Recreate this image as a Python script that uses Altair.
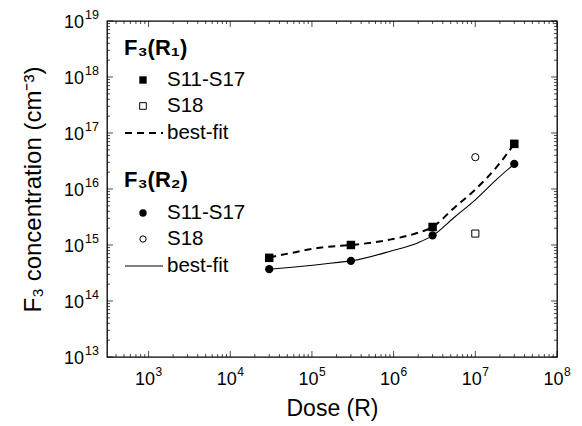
import altair as alt
import pandas as pd

# ---------------- data ----------------
dose_main = [3e4, 3e5, 3e6, 3e7]
r1_main = [5.9e14, 1.0e15, 2.1e15, 6.4e16]      # F3(R1) S11-S17 (filled squares)
r2_main = [3.7e14, 5.2e14, 1.49e15, 2.8e16]     # F3(R2) S11-S17 (filled circles)

dose_s18 = [1e7]
r1_s18 = [1.6e15]                               # F3(R1) S18 (open square)
r2_s18 = [3.7e16]                               # F3(R2) S18 (open circle)

fit_dose = [3e4, 6.7e4, 1.1e5, 2.1e5, 3e5, 9.3e5, 2e6, 3e6, 5.5e6, 1e7, 1.84e7, 3e7]
fit_r1 = [6.0e14, 7.6e14, 8.7e14, 9.6e14, 1.0e15, 1.26e15, 1.66e15, 2.1e15,
          4.6e15, 9.8e15, 2.5e16, 6.4e16]
fit_r2 = [3.7e14, 4.1e14, 4.4e14, 4.9e14, 5.2e14, 7.8e14, 1.1e15, 1.47e15,
          3.1e15, 6.4e15, 1.5e16, 2.8e16]

x_exponents = [3, 4, 5, 6, 7, 8]
y_exponents = [13, 14, 15, 16, 17, 18, 19]

x_domain = [310, 1e8]
y_domain = [1e13, 1e19]

W, H = 450, 336
FONT = "Liberation Sans"

x_major = [10.0 ** e for e in x_exponents]
y_major = [10.0 ** e for e in y_exponents]
x_minor = [k * 10.0 ** n for n in range(2, 8) for k in range(2, 10)
           if x_domain[0] <= k * 10.0 ** n <= x_domain[1]]
y_minor = [k * 10.0 ** n for n in range(13, 19) for k in range(2, 10)]

xs = alt.Scale(type="log", domain=x_domain, nice=False)
ys = alt.Scale(type="log", domain=y_domain, nice=False)

x_axis = alt.Axis(values=x_major, labels=False, ticks=False, domain=False, grid=False,
                  title="Dose (R)", titleFont=FONT, titleFontSize=23,
                  titleFontWeight="normal", titleColor="black", titlePadding=40)
y_axis = alt.Axis(values=y_major, labels=False, ticks=False, domain=False, grid=False,
                  title="F₃ concentration (cm⁻³)", titleFont=FONT,
                  titleFontSize=24, titleFontWeight="normal", titleColor="black",
                  titlePadding=62)

main_df = pd.DataFrame({"dose": dose_main, "r1": r1_main, "r2": r2_main})
s18_df = pd.DataFrame({"dose": dose_s18, "r1": r1_s18, "r2": r2_s18})
fit_df = pd.DataFrame({"dose": fit_dose, "r1": fit_r1, "r2": fit_r2})

line_r1 = alt.Chart(fit_df).mark_line(color="black", strokeWidth=2, strokeDash=[7, 5],
                                      interpolate="monotone").encode(
    x=alt.X("dose:Q", scale=xs, axis=x_axis), y=alt.Y("r1:Q", scale=ys, axis=y_axis))
line_r2 = alt.Chart(fit_df).mark_line(color="black", strokeWidth=1.1,
                                      interpolate="monotone").encode(
    x=alt.X("dose:Q", scale=xs), y=alt.Y("r2:Q", scale=ys))

sq_main = alt.Chart(main_df).mark_point(shape="square", filled=True, color="black",
                                        size=72, opacity=1).encode(
    x=alt.X("dose:Q", scale=xs), y=alt.Y("r1:Q", scale=ys))
ci_main = alt.Chart(main_df).mark_point(shape="circle", filled=True, color="black",
                                        size=68, opacity=1).encode(
    x=alt.X("dose:Q", scale=xs), y=alt.Y("r2:Q", scale=ys))
sq_s18 = alt.Chart(s18_df).mark_point(shape="square", filled=False, color="black",
                                      size=50, strokeWidth=1, opacity=1).encode(
    x=alt.X("dose:Q", scale=xs), y=alt.Y("r1:Q", scale=ys))
ci_s18 = alt.Chart(s18_df).mark_point(shape="circle", filled=False, color="black",
                                      size=52, strokeWidth=1, opacity=1).encode(
    x=alt.X("dose:Q", scale=xs), y=alt.Y("r2:Q", scale=ys))


# ---------------- inward ticks on all four sides ----------------
def xticks(vals, size, top):
    df = pd.DataFrame({"t": vals})
    yv = size / 2 if top else H - size / 2
    return alt.Chart(df).mark_tick(color="black", thickness=1, size=size,
                                   orient="vertical").encode(
        x=alt.X("t:Q", scale=xs), y=alt.value(yv))


def yticks(vals, size, right):
    df = pd.DataFrame({"t": vals})
    xv = W - size / 2 if right else size / 2
    return alt.Chart(df).mark_tick(color="black", thickness=1, size=size,
                                   orient="horizontal").encode(
        y=alt.Y("t:Q", scale=ys), x=alt.value(xv))


ticks = [xticks(x_major, 6, False), xticks(x_minor, 3, False),
         xticks(x_major, 6, True), xticks(x_minor, 3, True),
         yticks(y_major, 6, False), yticks(y_minor, 3, False),
         yticks(y_major, 6, True), yticks(y_minor, 3, True)]

# ---------------- tick labels: "10" with a raised exponent ----------------
xl_df = pd.DataFrame({"t": x_major, "e": [str(e) for e in x_exponents]})
yl_df = pd.DataFrame({"t": y_major, "e": [str(e) for e in y_exponents]})

x_base = alt.Chart(xl_df).mark_text(text="10", font=FONT, fontSize=18, align="right",
                                    baseline="alphabetic", dx=6.5, color="black").encode(
    x=alt.X("t:Q", scale=xs), y=alt.value(H + 28))
x_exp = alt.Chart(xl_df).mark_text(font=FONT, fontSize=12, align="left",
                                   baseline="alphabetic", dx=7, color="black").encode(
    x=alt.X("t:Q", scale=xs), y=alt.value(H + 19), text="e:N")
y_base = alt.Chart(yl_df).mark_text(text="10", font=FONT, fontSize=18, align="right",
                                    baseline="alphabetic", dy=7, color="black").encode(
    y=alt.Y("t:Q", scale=ys), x=alt.value(-23))
y_exp = alt.Chart(yl_df).mark_text(font=FONT, fontSize=12.5, align="right",
                                   baseline="alphabetic", dy=-2, color="black").encode(
    y=alt.Y("t:Q", scale=ys), x=alt.value(-8), text="e:N")

# ---------------- legend ----------------
one = pd.DataFrame({"a": [0]})
LX_MARK, LX_TEXT, LX_HEAD = 36, 60, 17


def ltext(txt, y, bold=False, x=LX_TEXT, size=20.5):
    return alt.Chart(one).mark_text(text=txt, font=FONT, fontSize=size,
                                    fontWeight="bold" if bold else "normal",
                                    align="left", baseline="middle",
                                    color="black").encode(
        x=alt.value(x), y=alt.value(y))


def lmark(shape, filled, y, size):
    return alt.Chart(one).mark_point(shape=shape, filled=filled, color="black",
                                     size=size, strokeWidth=1, opacity=1).encode(
        x=alt.value(LX_MARK), y=alt.value(y))


def lline(y, dash, width):
    kw = dict(color="black", strokeWidth=width)
    if dash:
        kw["strokeDash"] = dash
    return alt.Chart(one).mark_rule(**kw).encode(
        x=alt.value(18), x2=alt.value(56), y=alt.value(y))


legend = [
    ltext("F₃(R₁)", 27, bold=True, x=LX_HEAD, size=22),
    lmark("square", True, 59, 54), ltext("S11-S17", 59),
    lmark("square", False, 85, 44), ltext("S18", 85),
    lline(112, [7, 5], 2), ltext("best-fit", 112),
    ltext("F₃(R₂)", 159, bold=True, x=LX_HEAD, size=22),
    lmark("circle", True, 192, 55), ltext("S11-S17", 192),
    lmark("circle", False, 218, 40), ltext("S18", 218),
    lline(245, None, 1.1), ltext("best-fit", 245),
]

chart = alt.layer(line_r1, line_r2, sq_main, ci_main, sq_s18, ci_s18,
                  *ticks, x_base, x_exp, y_base, y_exp, *legend).properties(
    width=W, height=H,
    padding={"left": 99, "top": 13, "right": 17, "bottom": 69},
    autosize=alt.AutoSizeParams(type="none"),
    background="white",
).configure_view(stroke="black", strokeWidth=1.3)

chart.save("out.html", embed_options={"renderer": "svg", "actions": False})
